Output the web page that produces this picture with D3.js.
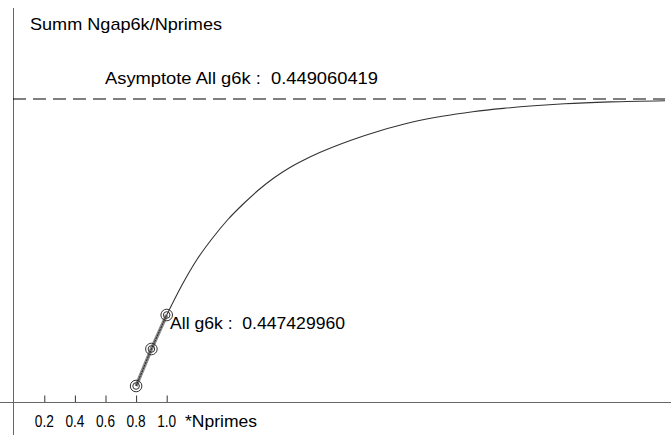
<!DOCTYPE html>
<html><head><meta charset="utf-8">
<script src="https://cdn.jsdelivr.net/npm/d3@7"></script>
<style>
html,body{margin:0;padding:0;background:#fff;}
svg{display:block;}
text{font-family:"Liberation Sans",Arial,sans-serif;font-size:17px;fill:#000;white-space:pre;}
</style></head>
<body>
<script>
// ---- data ----
const xTicks = [0.2, 0.4, 0.6, 0.8, 1.0];
const xTickLabels = ["0.2", "0.4", "0.6", "0.8", "1.0"];
const xAxisLabel = "*Nprimes";
const yTitle = "Summ Ngap6k/Nprimes";
const asymptote = 0.449060419;
const asymptoteLabel = "Asymptote All g6k :  0.449060419";
const pointX = [0.8, 0.9, 1.0];
const pointY = [0.4468940, 0.4471733, 0.447429960];
const pointLabel = "All g6k :  0.447429960";
const curveX = [1.0, 1.1, 1.2, 1.3, 1.4, 1.5, 1.6, 1.7, 1.8, 1.9, 2.0, 2.2, 2.4, 2.6, 2.8, 3.0, 3.2, 3.4, 3.6, 3.9, 4.257];
const curveY = [0.447429960, 0.4476564, 0.4478526, 0.4480112, 0.4481508, 0.4482678, 0.4483735, 0.4484641, 0.4485396, 0.4486015, 0.4486558, 0.4487471, 0.4488226, 0.4488845, 0.4489298, 0.4489638, 0.4489894, 0.4490091, 0.4490242, 0.4490385, 0.4490476];

const W = 671, H = 435;
const svg = d3.select("body").append("svg").attr("width", W).attr("height", H);

const x0 = 13.7, axisY = 402.5;
const x = d3.scaleLinear().domain([0, 1]).range([x0, x0 + 153]);
const y = d3.scaleLinear().domain([0.447429960, asymptote]).range([315, 99]);

// y axis line
svg.append("line").attr("x1", 13.5).attr("x2", 13.5).attr("y1", 8).attr("y2", H)
  .attr("stroke", "#666").attr("stroke-width", 1);
// x axis
const xAxis = d3.axisBottom(x).tickValues(xTicks).tickSize(7).tickFormat("");
const gx = svg.append("g").attr("transform", `translate(0,${axisY})`).call(xAxis);
gx.select(".domain").remove();
gx.selectAll(".tick line").attr("stroke", "#333").attr("y1", 0).attr("y2", -7);
svg.append("line").attr("x1", 0).attr("x2", W).attr("y1", axisY).attr("y2", axisY)
  .attr("stroke", "#666");
// tick labels
svg.selectAll("text.tl").data(xTicks).enter().append("text").attr("class", "tl")
  .attr("x", d => x(d) - 9.5).attr("y", 427)
  .attr("textLength", 19).attr("lengthAdjust", "spacingAndGlyphs")
  .text((d, i) => xTickLabels[i]);
svg.append("text").attr("x", 185).attr("y", 427)
  .attr("textLength", 72).attr("lengthAdjust", "spacingAndGlyphs").text(xAxisLabel);

// title
svg.append("text").attr("x", 30).attr("y", 29.5)
  .attr("textLength", 192).attr("lengthAdjust", "spacingAndGlyphs").text(yTitle);

// asymptote
svg.append("line").attr("x1", 13).attr("x2", 665).attr("y1", y(asymptote)).attr("y2", y(asymptote))
  .attr("stroke", "#000").attr("stroke-dasharray", "13,7");
svg.append("text").attr("x", 105).attr("y", 84)
  .attr("textLength", 273).attr("lengthAdjust", "spacingAndGlyphs").text(asymptoteLabel);

// curve
const curveData = curveX.map((d, i) => [d, curveY[i]]);
svg.append("path").datum(curveData)
  .attr("d", d3.line().x(d => x(d[0])).y(d => y(d[1])).curve(d3.curveMonotoneX))
  .attr("fill", "none").attr("stroke", "#333").attr("stroke-width", 1.1);

// points segment
const pts = pointX.map((d, i) => [d, pointY[i]]);
const segLine = d3.line().x(d => x(d[0])).y(d => y(d[1]));
svg.append("path").datum(pts).attr("d", segLine)
  .attr("fill", "none").attr("stroke", "#888").attr("stroke-width", 3.5);
svg.append("path").datum(pts).attr("d", segLine)
  .attr("fill", "none").attr("stroke", "#222").attr("stroke-width", 1).attr("stroke-dasharray", "2,1");
svg.selectAll("circle.o").data(pts).enter().append("circle").attr("class", "o")
  .attr("cx", d => x(d[0])).attr("cy", d => y(d[1])).attr("r", 5.8)
  .attr("fill", "none").attr("stroke", "#333").attr("stroke-width", 1);
svg.selectAll("circle.i").data(pts).enter().append("circle").attr("class", "i")
  .attr("cx", d => x(d[0])).attr("cy", d => y(d[1])).attr("r", 3.3)
  .attr("fill", "none").attr("stroke", "#333").attr("stroke-width", 1);
svg.append("text").attr("x", 170).attr("y", 328.5)
  .attr("textLength", 175).attr("lengthAdjust", "spacingAndGlyphs").text(pointLabel);
</script>
</body></html>
